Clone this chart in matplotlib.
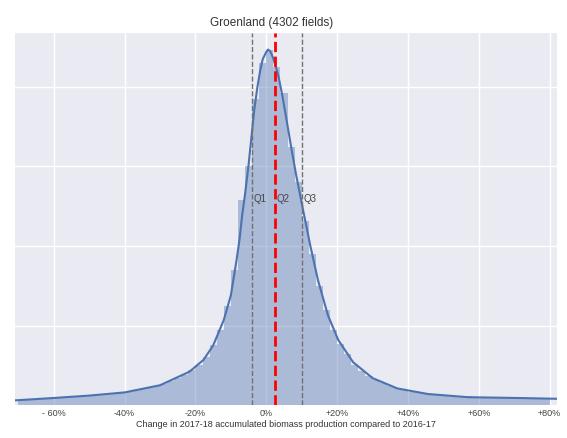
import numpy as np
import matplotlib
matplotlib.use("Agg")
import matplotlib.pyplot as plt

# histogram: 2% bins from -70% to +80%, density per percent point
bin_edges = np.arange(-70, 82, 2)
hist_heights = [
    0.0007, 0.0007, 0.0008, 0.0008, 0.0009, 0.0009, 0.0010, 0.0010, 0.0011, 0.0011,
    0.0012, 0.0013, 0.0013, 0.0014, 0.0015, 0.0017, 0.0019, 0.0020, 0.0022, 0.0024,
    0.0027, 0.0030, 0.0034, 0.0038, 0.0044, 0.0050, 0.0061, 0.0075, 0.0095, 0.0125,
    0.0170, 0.0258, 0.0300, 0.0385, 0.0430, 0.0447, 0.0425, 0.0392, 0.0325, 0.0280,
    0.0232, 0.0190, 0.0150, 0.0120, 0.0095, 0.0077, 0.0064, 0.0051, 0.0043, 0.0037,
    0.0032, 0.0028, 0.0024, 0.0021, 0.0019, 0.0017, 0.0016, 0.0015, 0.0014, 0.0013,
    0.0012, 0.0012, 0.0011, 0.0011, 0.0010, 0.0010, 0.0010, 0.0009, 0.0009, 0.0009,
    0.0009, 0.0008, 0.0008, 0.0008, 0.0008,
]

# kde curve
kde_x = [-71, -60, -50, -40, -30, -21.7, -17.7, -15, -12, -10, -8.4, -7.5, -6.8, -6,
         -5, -4, -3.4, -2.5, -1.7, -1, 0, 0.5, 1.1, 1.8, 2.8, 3.5, 4.5, 5.2, 6.2, 7.2,
         8.4, 10.4, 12.4, 14.6, 17.4, 20.3, 24.5, 30, 37, 45.6, 57, 71, 82]
kde_y = [0.0006, 0.0009, 0.0012, 0.0016, 0.0025, 0.0042, 0.0057, 0.0075, 0.0107, 0.0138,
         0.0182, 0.0210, 0.0239, 0.0265, 0.0302, 0.0345, 0.0371, 0.0400, 0.0421, 0.0435,
         0.0444, 0.0447, 0.0445, 0.0438, 0.0424, 0.0412, 0.0390, 0.0372, 0.0346, 0.0320,
         0.0290, 0.0245, 0.0201, 0.0157, 0.0113, 0.0082, 0.0054, 0.0034, 0.0021, 0.0014,
         0.0010, 0.0009, 0.0008]

quartiles = [-4.0, 2.5, 10.0]
q_names = ["Q1", "Q2", "Q3"]
xticks = [-60, -40, -20, 0, 20, 40, 60, 80]
xtick_labels = ["- 60%", "-40%", "-20%", "0%", "+20%", "+40%", "+60%", "+80%"]

plt.rcParams['font.family'] = ['Liberation Sans', 'DejaVu Sans']

fig = plt.figure(figsize=(5.67, 4.38), dpi=100)
ax = fig.add_axes([0.026, 0.075, 0.956, 0.85])
ax.set_facecolor("#eaeaf2")
for s in ax.spines.values():
    s.set_visible(False)

blue = "#4c72b0"
ax.bar(bin_edges[:-1], hist_heights, width=2, align="edge", color=blue, alpha=0.4,
       linewidth=0, zorder=2)
ax.plot(kde_x, kde_y, color=blue, lw=1.5, zorder=3)

ax.axvline(quartiles[0], color="#707070", ls="--", lw=1, zorder=4)
ax.axvline(quartiles[1], color="red", ls="--", lw=2, zorder=4)
ax.axvline(quartiles[2], color="#707070", ls="--", lw=1, zorder=4)
for q, name in zip(quartiles, q_names):
    ax.text(q + 0.5, 0.0255, name, fontsize=7, color="#444444", zorder=5)

ax.set_xlim(-71, 82)
ax.set_ylim(0, 0.0468)
ax.set_xticks(xticks)
ax.set_xticklabels(xtick_labels, fontsize=6.5, color="#444444")
ax.set_yticks([0.01, 0.02, 0.03, 0.04])
ax.set_yticklabels([])
ax.tick_params(length=0, pad=3)
ax.grid(True, color="white", lw=1, zorder=0)
ax.set_axisbelow(True)

ax.set_xlabel("Change in 2017-18 accumulated biomass production compared to 2016-17",
              fontsize=6.5, color="#333333", labelpad=1)
ax.set_title("Groenland (4302 fields)", fontsize=8.5, color="#333333", x=0.474, pad=5)

fig.savefig("out.png", dpi=100)
